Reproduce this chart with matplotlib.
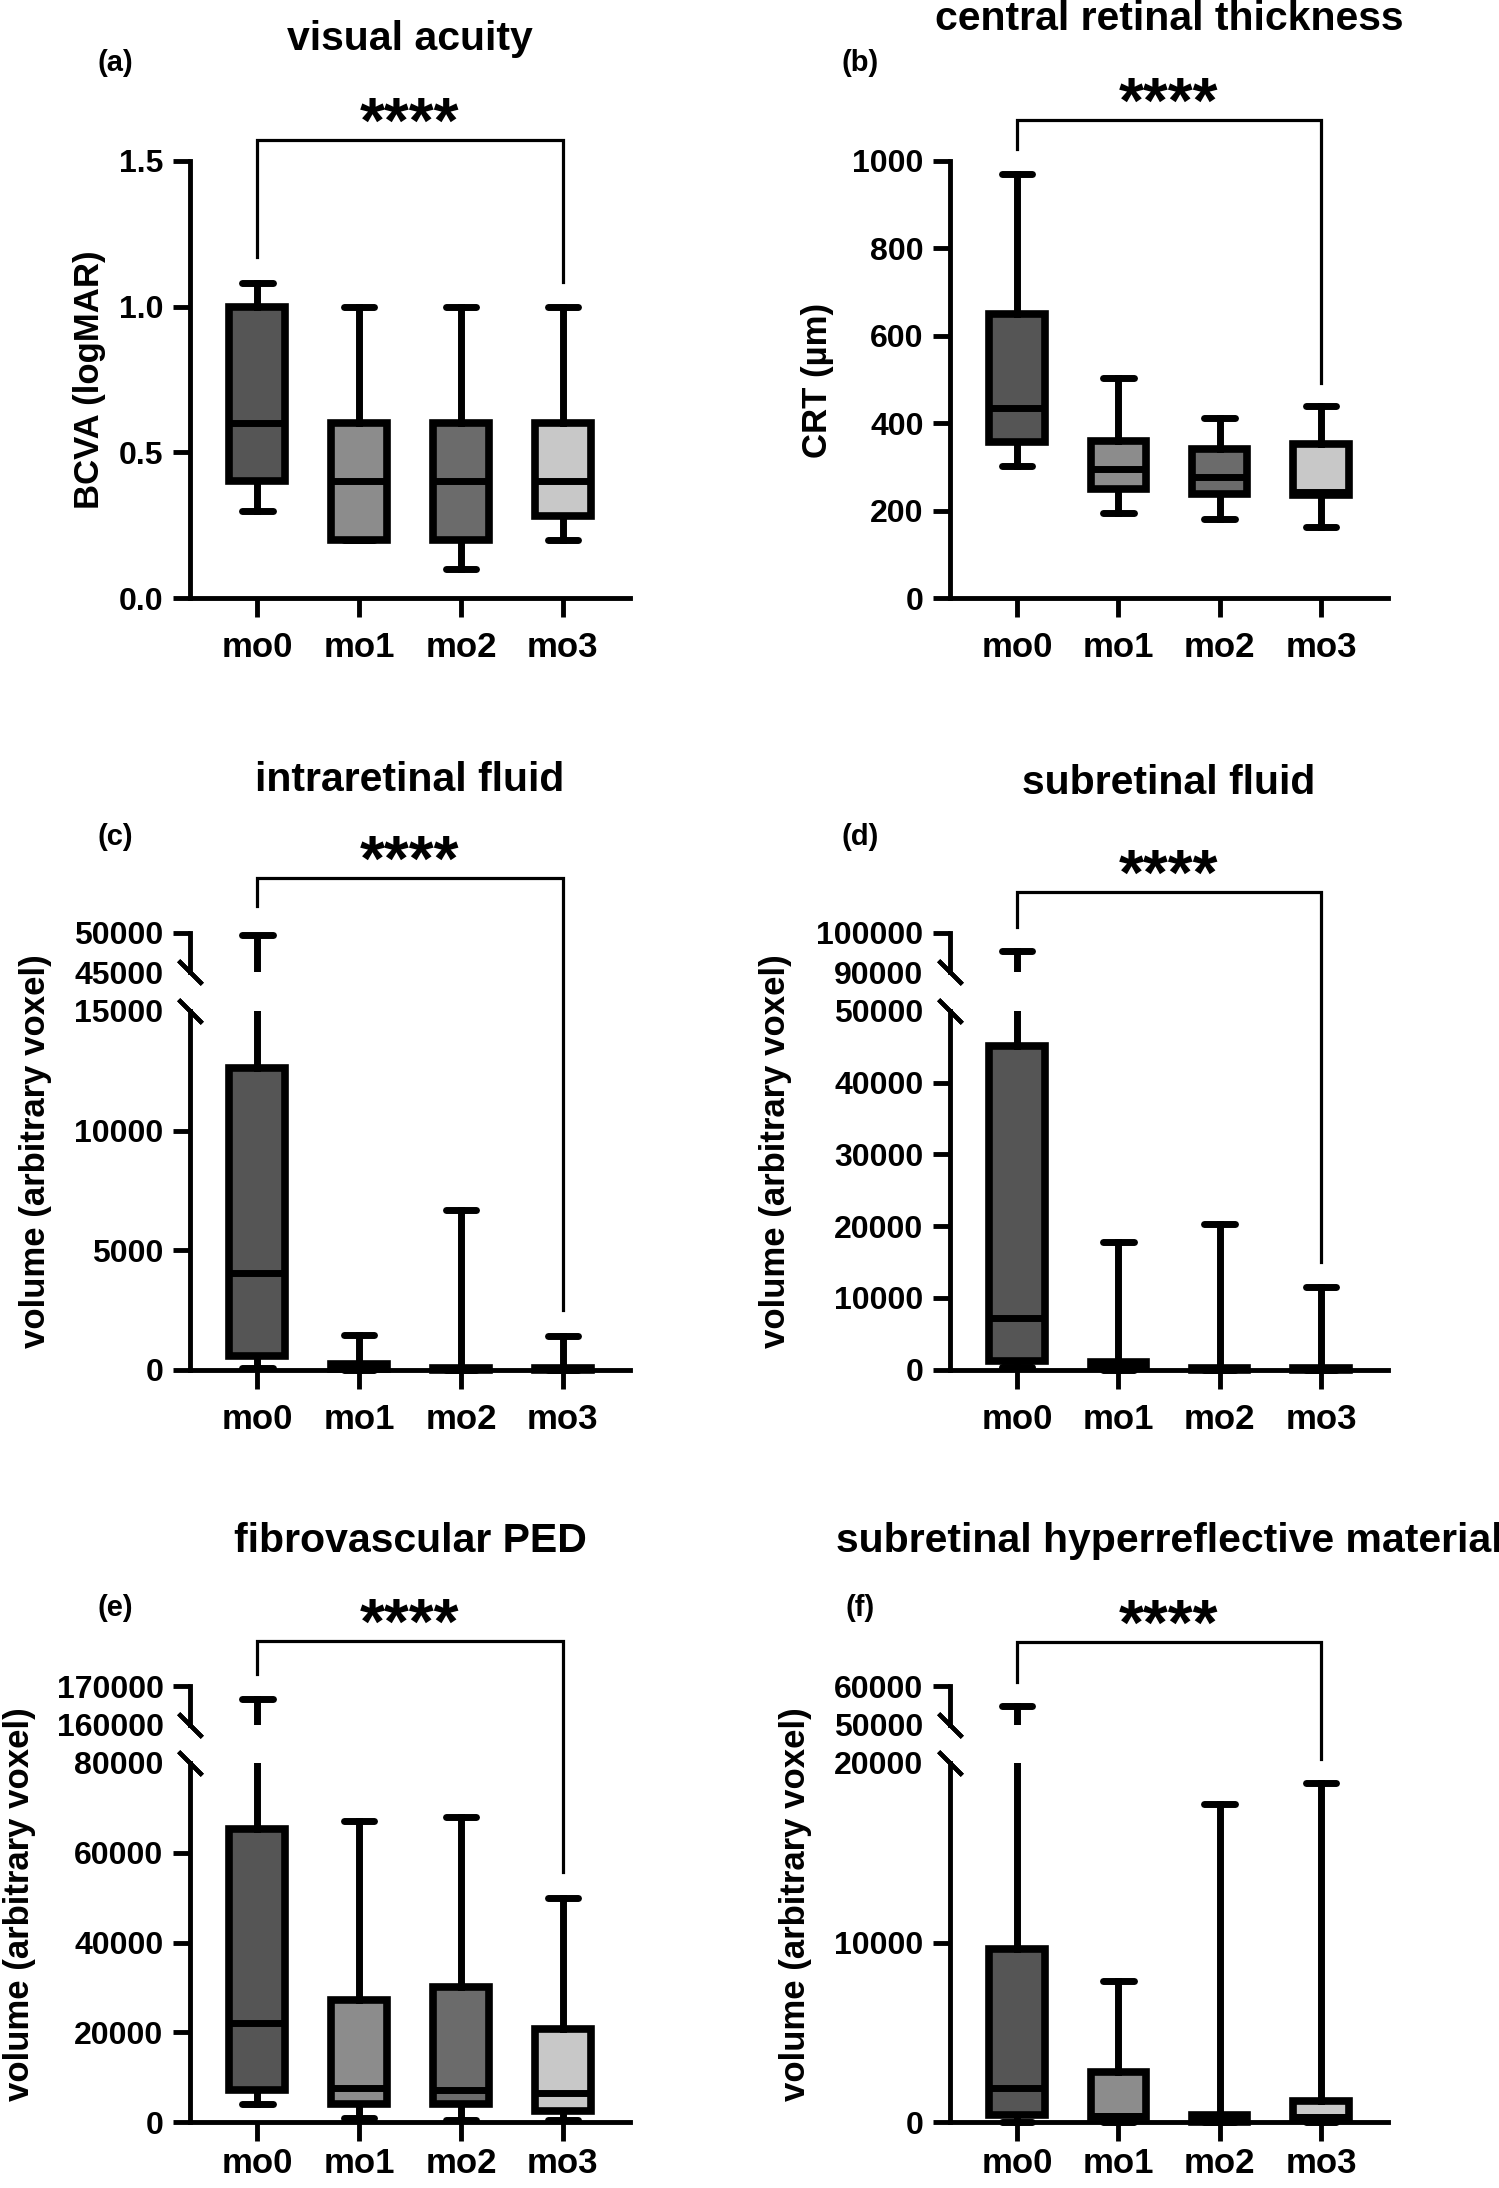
import matplotlib
matplotlib.use('Agg')
import matplotlib.pyplot as plt
from matplotlib.lines import Line2D

plt.rcParams['font.family'] = ['Liberation Sans', 'DejaVu Sans']
plt.rcParams['font.weight'] = 'bold'

months = ['mo0', 'mo1', 'mo2', 'mo3']
box_colors = ['#555555', '#8c8c8c', '#6b6b6b', '#c8c8c8']

# (a) visual acuity, logMAR
va_whislo = [0.30, 0.20, 0.10, 0.20]
va_q1 = [0.40, 0.20, 0.20, 0.28]
va_med = [0.60, 0.40, 0.40, 0.40]
va_q3 = [1.00, 0.60, 0.60, 0.60]
va_whishi = [1.08, 1.00, 1.00, 1.00]

# (b) central retinal thickness, um
crt_whislo = [301, 194, 181, 163]
crt_q1 = [357, 250, 237, 235]
crt_med = [434, 296, 276, 242]
crt_q3 = [650, 360, 342, 352]
crt_whishi = [971, 503, 413, 439]

# (c) intraretinal fluid
irf_whislo = [80, 0, 0, 0]
irf_q1 = [560, 30, 0, 0]
irf_med = [4020, 100, 10, 20]
irf_q3 = [12620, 250, 60, 80]
irf_whishi = [49800, 1460, 6670, 1400]

# (d) subretinal fluid
srf_whislo = [300, 0, 0, 0]
srf_q1 = [1250, 200, 0, 0]
srf_med = [7160, 500, 50, 50]
srf_q3 = [45140, 1100, 200, 200]
srf_whishi = [95340, 17750, 20360, 11460]

# (e) fibrovascular PED
ped_whislo = [4020, 1000, 500, 500]
ped_q1 = [7040, 4020, 4020, 2500]
ped_med = [22130, 7550, 7040, 6540]
ped_q3 = [65190, 27160, 29980, 20620]
ped_whishi = [166600, 67100, 67900, 50000]

# (f) subretinal hyperreflective material
shrm_whislo = [0, 0, 0, 0]
shrm_q1 = [380, 300, 0, 250]
shrm_med = [1890, 350, 100, 300]
shrm_q3 = [9635, 2770, 400, 1150]
shrm_whishi = [54890, 7870, 17740, 18870]

# significance brackets: bar level, left leg end, right leg end
va_bracket = [1.573, 1.172, 1.085]
crt_bracket = [1094, 1028, 493]
irf_bracket = [57050, 53430, 2470]
srf_bracket = [110450, 101600, 14950]
ped_bracket = [181600, 173070, 55630]
shrm_bracket = [71360, 61020, 20250]

W, H = 1499, 2188
fig = plt.figure(figsize=(W / 100, H / 100), dpi=100)


def fx(px):
    return px / W


def fy(py):
    return 1 - py / H


def make_stats(lo, q1, med, q3, hi):
    return [dict(whislo=a, q1=b, med=c, q3=d, whishi=e)
            for a, b, c, d, e in zip(lo, q1, med, q3, hi)]


def add_ax(x0, x1, ytop, ybot):
    return fig.add_axes([fx(x0), fy(ybot), (x1 - x0) / W, (ybot - ytop) / H])


def draw_boxes(ax, stats, lo, hi):
    bp = ax.bxp(stats, positions=range(4), widths=0.545, capwidths=0.3,
                patch_artist=True, showfliers=False,
                boxprops=dict(linewidth=5.5, edgecolor='black'),
                whiskerprops=dict(linewidth=5.0, color='black'),
                capprops=dict(linewidth=5.0, color='black', solid_capstyle='round'),
                medianprops=dict(linewidth=5.0, color='black'))
    for i, s in enumerate(stats):
        bp['boxes'][i].set_facecolor(box_colors[i])
        for cap, v in ((bp['caps'][2 * i], s['whislo']), (bp['caps'][2 * i + 1], s['whishi'])):
            if lo <= v <= hi:
                cap.set_clip_on(False)
            else:
                cap.set_visible(False)
        for w, (a, b) in ((bp['whiskers'][2 * i], (s['whislo'], s['q1'])),
                          (bp['whiskers'][2 * i + 1], (s['q3'], s['whishi']))):
            if lo <= a <= hi and lo <= b <= hi:
                w.set_clip_on(False)
        if lo <= s['q1'] and s['q3'] <= hi:
            bp['boxes'][i].set_clip_on(False)
            bp['medians'][i].set_clip_on(False)


def style_common(ax, lo, hi, ticks, labels, no_mark=None):
    ax.set_xlim(-0.66, 3.66)
    ax.set_ylim(lo, hi)
    for sp in ['top', 'right']:
        ax.spines[sp].set_visible(False)
    for sp in ['left', 'bottom']:
        ax.spines[sp].set_linewidth(3.5)
    ax.set_yticks(ticks, labels)
    ax.tick_params(axis='y', length=12, width=3.5, pad=7, labelsize=23)
    if no_mark is not None:
        ax.yaxis.get_major_ticks()[no_mark].tick1line.set_visible(False)


def style_bottom(ax, pad=10):
    ax.set_xticks(range(4), months)
    ax.tick_params(axis='x', length=14, width=3.5, pad=pad, labelsize=25)


def style_top(ax):
    ax.spines['bottom'].set_visible(False)
    ax.set_xticks([])


def break_mark(ax, y):
    ax.plot([0], [y], transform=ax.get_yaxis_transform(), marker=(2, 2, 45),
            ms=24, mew=3.0, color='black', clip_on=False)


def bracket(ax_top, ax_right, spec):
    bar, left_end, right_end = spec
    inv = fig.transFigure.inverted()
    p0 = inv.transform(ax_top.transData.transform((0, left_end)))
    p1 = inv.transform(ax_top.transData.transform((0, bar)))
    p2 = inv.transform(ax_top.transData.transform((3, bar)))
    p3 = inv.transform(ax_right.transData.transform((3, right_end)))
    fig.add_artist(Line2D([p0[0], p1[0], p2[0], p3[0]], [p0[1], p1[1], p2[1], p3[1]],
                          transform=fig.transFigure, lw=2.3, color='black',
                          solid_joinstyle='miter'))
    fig.text((p1[0] + p2[0]) / 2, p1[1] - 3 / H, '****', ha='center', va='baseline',
             fontsize=46)


col_x = {'A': (190, 630), 'B': (950, 1388)}
col_text = {'A': (410, 115), 'B': (1169, 860)}

# single panels
single = [
    ('A', make_stats(va_whislo, va_q1, va_med, va_q3, va_whishi), (0, 1.5),
     [0, 0.5, 1.0, 1.5], ['0.0', '0.5', '1.0', '1.5'], va_bracket,
     'visual acuity', 50, '(a)', 71, 'BCVA (logMAR)', 89),
    ('B', make_stats(crt_whislo, crt_q1, crt_med, crt_q3, crt_whishi), (0, 1000),
     [0, 200, 400, 600, 800, 1000], ['0', '200', '400', '600', '800', '1000'], crt_bracket,
     'central retinal thickness', 29.5, '(b)', 71, 'CRT (µm)', 817),
]
for col, stats, (lo, hi), ticks, labels, br, title, ty, letter, ly, ylabel, yx in single:
    x0, x1 = col_x[col]
    ax = add_ax(x0, x1, 161, 598)
    draw_boxes(ax, stats, lo, hi)
    style_common(ax, lo, hi, ticks, labels)
    style_bottom(ax)
    bracket(ax, ax, br)
    cx, lx = col_text[col]
    fig.text(fx(cx), fy(ty), title, ha='center', va='baseline', fontsize=29.5)
    fig.text(fx(lx), fy(ly), letter, ha='center', va='baseline', fontsize=21)
    fig.text(fx(yx), fy(380), ylabel, rotation=90, ha='center', va='center', fontsize=25)

# broken-axis panels
broken = [
    ('A', 933, 972, 1011, 1369.5, 10, make_stats(irf_whislo, irf_q1, irf_med, irf_q3, irf_whishi),
     (45000, 50000), (0, 15000), [0, 5000, 10000, 15000], irf_bracket,
     'intraretinal fluid', 791, '(c)', 845, 36),
    ('B', 933, 972, 1011, 1369.5, 10, make_stats(srf_whislo, srf_q1, srf_med, srf_q3, srf_whishi),
     (90000, 100000), (0, 50000), [0, 10000, 20000, 30000, 40000, 50000], srf_bracket,
     'subretinal fluid', 794, '(d)', 845, 776),
    ('A', 1686, 1725, 1763, 2122, 4, make_stats(ped_whislo, ped_q1, ped_med, ped_q3, ped_whishi),
     (160000, 170000), (0, 80000), [0, 20000, 40000, 60000, 80000], ped_bracket,
     'fibrovascular PED', 1552, '(e)', 1616, 20),
    ('B', 1686, 1725, 1763, 2122, 4, make_stats(shrm_whislo, shrm_q1, shrm_med, shrm_q3, shrm_whishi),
     (50000, 60000), (0, 20000), [0, 10000, 20000], shrm_bracket,
     'subretinal hyperreflective material', 1552, '(f)', 1616, 796),
]
for (col, t0, t1, b0, b1, xpad, stats, (tlo, thi), (blo, bhi), bticks, br,
     title, ty, letter, ly, yx) in broken:
    x0, x1 = col_x[col]
    ax_t = add_ax(x0, x1, t0, t1)
    ax_b = add_ax(x0, x1, b0, b1)
    draw_boxes(ax_t, stats, tlo, thi)
    draw_boxes(ax_b, stats, blo, bhi)
    style_common(ax_t, tlo, thi, [tlo, thi], [str(tlo), str(thi)], no_mark=0)
    style_top(ax_t)
    style_common(ax_b, blo, bhi, bticks, [str(t) for t in bticks], no_mark=len(bticks) - 1)
    style_bottom(ax_b, pad=xpad)
    break_mark(ax_t, tlo)
    break_mark(ax_b, bhi)
    bracket(ax_t, ax_b, br)
    cx, lx = col_text[col]
    fig.text(fx(cx), fy(ty), title, ha='center', va='baseline', fontsize=29.5)
    fig.text(fx(lx), fy(ly), letter, ha='center', va='baseline', fontsize=21)
    fig.text(fx(yx), fy((t0 + b1) / 2), 'volume (arbitrary voxel)', rotation=90,
             ha='center', va='center', fontsize=25)

fig.savefig('out.png', dpi=100, facecolor='white')
